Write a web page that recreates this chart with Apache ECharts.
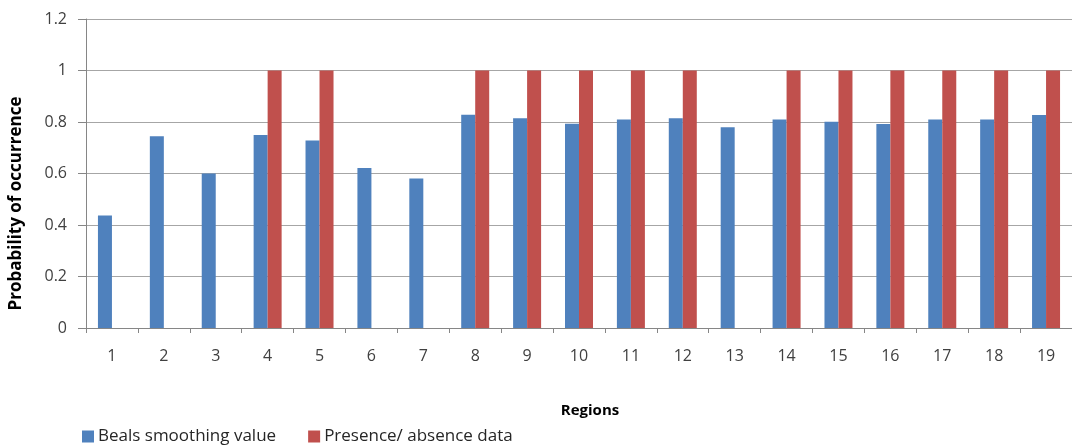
<!DOCTYPE html>
<html>
<head>
<meta charset="utf-8">
<script src="https://cdn.jsdelivr.net/npm/echarts@6/dist/echarts.min.js"></script>
<style>
  html, body { margin: 0; padding: 0; background: #fff; }
  #chart { width: 1072px; height: 445px; }
</style>
</head>
<body>
<div id="chart"></div>
<script>
// Regions 1–19 along the x axis
var regions = ['1','2','3','4','5','6','7','8','9','10','11','12','13','14','15','16','17','18','19'];

// Beals smoothing value per region
var bealsValues = [0.437, 0.745, 0.600, 0.750, 0.728, 0.621, 0.581, 0.828, 0.815, 0.793,
                   0.810, 0.815, 0.780, 0.810, 0.801, 0.792, 0.810, 0.810, 0.827];

// Presence (1) / absence (0) per region
var presenceValues = [0, 0, 0, 1, 1, 0, 0, 1, 1, 1, 1, 1, 0, 1, 1, 1, 1, 1, 1];

var seriesNames = ['Beals smoothing value', 'Presence/ absence data'];

var FONT = 'Open Sans';
var TEXT = '#404040';
var AXIS = '#868686';

var chart = echarts.init(document.getElementById('chart'), null, { renderer: 'canvas' });

chart.setOption({
  animation: false,
  textStyle: { fontFamily: FONT },
  grid: { left: 86, right: 0, top: 19, bottom: 117, containLabel: false, outerBoundsMode: 'none' },
  legend: {
    left: 77, top: 423,
    icon: 'rect', itemWidth: 12, itemHeight: 12, itemGap: 32,
    textStyle: { fontFamily: FONT, fontSize: 17, color: '#262626', padding: [0, 0, 0, -1] },
    data: seriesNames
  },
  xAxis: {
    type: 'category',
    data: regions,
    name: 'Regions',
    nameLocation: 'middle',
    nameGap: 75,
    nameTextStyle: { fontFamily: FONT, fontSize: 15, fontWeight: 'bold', color: '#000', padding: [0, 0, 0, 22] },
    axisLine: { show: true, lineStyle: { color: AXIS, width: 1 } },
    axisTick: { show: true, alignWithLabel: false, length: 5, lineStyle: { color: AXIS } },
    axisLabel: { fontFamily: FONT, fontSize: 16, color: TEXT, margin: 20 },
    splitLine: { show: false }
  },
  yAxis: {
    type: 'value',
    min: 0, max: 1.2, interval: 0.2,
    name: 'Probability of occurrence',
    nameLocation: 'middle',
    nameRotate: 90,
    nameGap: 61,
    nameTextStyle: { fontFamily: FONT, fontSize: 17, fontWeight: 'bold', color: '#000', padding: [0, 60, 0, 0] },
    axisLine: { show: true, lineStyle: { color: AXIS, width: 1 } },
    axisTick: { show: true, length: 8, lineStyle: { color: AXIS } },
    axisLabel: { fontFamily: FONT, fontSize: 16, color: TEXT, margin: 19 },
    splitLine: { show: true, lineStyle: { color: '#a6a6a6', width: 1 } }
  },
  series: [
    {
      name: seriesNames[0],
      type: 'bar',
      data: bealsValues,
      barWidth: 14,
      barGap: '0%',
      itemStyle: { color: '#4F81BD' }
    },
    {
      name: seriesNames[1],
      type: 'bar',
      data: presenceValues,
      barWidth: 14,
      barGap: '0%',
      itemStyle: { color: '#C0504D' }
    }
  ]
});
</script>
</body>
</html>
